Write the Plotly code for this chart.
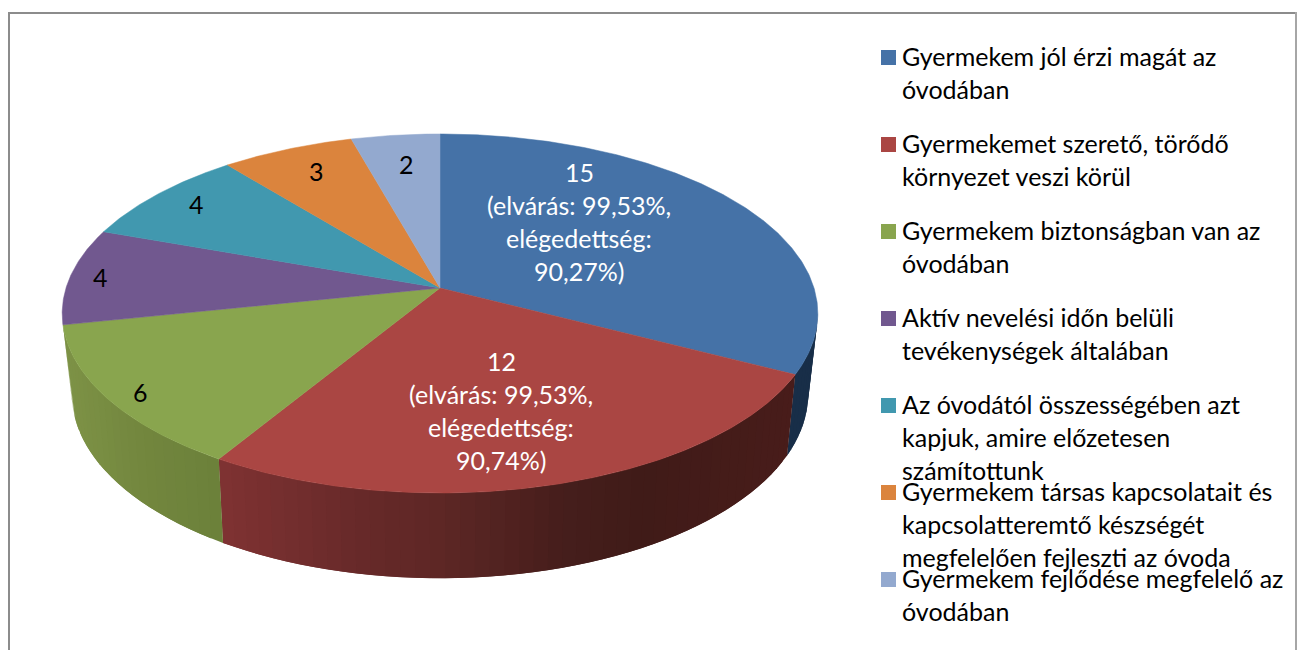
import math
import plotly.graph_objects as go

values = [15, 12, 6, 4, 4, 3, 2]
top_colors = ["#4572A7", "#AA4643", "#89A54E", "#71588F", "#4198AF", "#DB843D", "#93A9CF"]
legend_lines = [
    ["Gyermekem jól érzi magát az", "óvodában"],
    ["Gyermekemet szerető, törődő", "környezet veszi körül"],
    ["Gyermekem biztonságban van az", "óvodában"],
    ["Aktív nevelési időn belüli", "tevékenységek általában"],
    ["Az óvodától összességében azt", "kapjuk, amire előzetesen", "számítottunk"],
    ["Gyermekem társas kapcsolatait és", "kapcsolatteremtő készségét", "megfelelően fejleszti az óvoda"],
    ["Gyermekem fejlődése megfelelő az", "óvodában"],
]
big_labels = [
    ["15", "(elvárás: 99,53%,", "elégedettség:", "90,27%)"],
    ["12", "(elvárás: 99,53%,", "elégedettség:", "90,74%)"],
]
FONT = "Lato"
FS = 25

CX = 440
def top_pt(t):
    r = math.radians(t)
    u, v = math.sin(r), -math.cos(r)
    d = 1 - 0.142 * v
    return CX + 374 * u / d, 288 + 175.9 * v / d

def bot_pt(t):
    r = math.radians(t)
    u, v = math.sin(r), -math.cos(r)
    d = 1 - 0.15 * v
    return CX + 364 * u / d, 366.5 + 180 * v / d

def lerp_color(stops, x):
    if x <= stops[0][0]:
        return "rgb(%d,%d,%d)" % stops[0][1]
    for (x0, c0), (x1, c1) in zip(stops, stops[1:]):
        if x <= x1:
            f = (x - x0) / (x1 - x0)
            return "rgb(%d,%d,%d)" % tuple(round(a + (b - a) * f) for a, b in zip(c0, c1))
    return "rgb(%d,%d,%d)" % stops[-1][1]

wall_stops = {
    0: [(700, (24, 46, 72)), (820, (24, 46, 72))],
    1: [(223, (127, 50, 50)), (350, (105, 42, 42)), (450, (92, 38, 36)),
        (560, (70, 30, 28)), (640, (64, 27, 24)), (790, (72, 28, 26))],
    2: [(70, (125, 146, 70)), (140, (115, 135, 62)), (223, (107, 128, 58))],
}

total = sum(values)
edges = [0]
for val in values:
    edges.append(edges[-1] + val / total * 360)

fig = go.Figure()

def add_poly(p, col, width=0):
    fig.add_trace(go.Scatter(x=[q[0] for q in p], y=[q[1] for q in p], mode="lines",
                             fill="toself", fillcolor=col, line=dict(color=col, width=width),
                             hoverinfo="skip", showlegend=False))

# side walls (blue, red, green), built from the slice angles
STEP = 2.0
wall_ranges = {0: (98.0, edges[1]), 1: (edges[1], edges[2]), 2: (edges[2], edges[3])}
for idx, (a, b) in wall_ranges.items():
    n = max(1, round((b - a) / STEP))
    dt = (b - a) / n
    # each strip overlaps the next one, which paints over it: no seams
    for i in range(n):
        t0 = a + dt * i
        t_end = min(b, t0 + 2 * dt)
        ts = [t0 + (t_end - t0) * j / 6 for j in range(7)]
        tp = [top_pt(t) for t in ts]
        bp = [bot_pt(t) for t in reversed(ts)]
        mid = (top_pt(t0 + dt / 2)[0] + bot_pt(t0 + dt / 2)[0]) / 2
        add_poly(tp + bp + [tp[0]], lerp_color(wall_stops[idx], mid))

# top faces
for i, val in enumerate(values):
    a, b = edges[i], edges[i + 1]
    n = max(2, round((b - a) / 0.5))
    pts = [top_pt(a + (b - a) * j / n) for j in range(n + 1)]
    add_poly([(CX, 288)] + pts + [(CX, 288)], top_colors[i], 0.5)

# legend swatches
row_y = [57.5 + 87 * i for i in range(len(values))]
fig.add_trace(go.Scatter(x=[888.5] * len(values), y=row_y, mode="markers",
                         marker=dict(symbol="square", size=15, color=top_colors, line=dict(width=0)),
                         hoverinfo="skip", showlegend=False))

ann = []
def text(x, y, s, color="black", anchor="left"):
    ann.append(dict(x=x, y=y, xref="x", yref="y", text=s, showarrow=False, xanchor=anchor,
                    yanchor="middle", align=anchor, font=dict(family=FONT, size=FS, color=color),
                    borderpad=0))

for i, lines in enumerate(legend_lines):
    for j, line in enumerate(lines):
        text(901, 56 + 87 * i + 33 * j, line)

for cx, y0, lines in [(579, 172, big_labels[0]), (501, 361, big_labels[1])]:
    for j, line in enumerate(lines):
        text(cx, y0 + 33 * j, line, color="white", anchor="center")

small_pos = [(140, 392), (100, 277), (196, 204), (316, 171), (406, 164)]
for (x, y), val in zip(small_pos, values[2:]):
    text(x, y, str(val), anchor="center")

frame = [
    dict(type="line", xref="x", yref="y", x0=9, x1=9, y0=13, y1=650, line=dict(color="#8C8C8C", width=2)),
    dict(type="line", xref="x", yref="y", x0=8, x1=1297, y0=13, y1=13, line=dict(color="#8C8C8C", width=2)),
    dict(type="line", xref="x", yref="y", x0=1296, x1=1296, y0=12, y1=650, line=dict(color="#A6A6A6", width=2)),
]

fig.update_layout(
    width=1301, height=650, margin=dict(l=0, r=0, t=0, b=0),
    paper_bgcolor="white", plot_bgcolor="white", showlegend=False,
    xaxis=dict(range=[0, 1301], visible=False, fixedrange=True),
    yaxis=dict(range=[650, 0], visible=False, fixedrange=True),
    annotations=ann, shapes=frame,
)
fig.write_html("out.html", config={"displayModeBar": False},
               post_script="document.body.style.margin='0';document.body.style.overflow='hidden';")
